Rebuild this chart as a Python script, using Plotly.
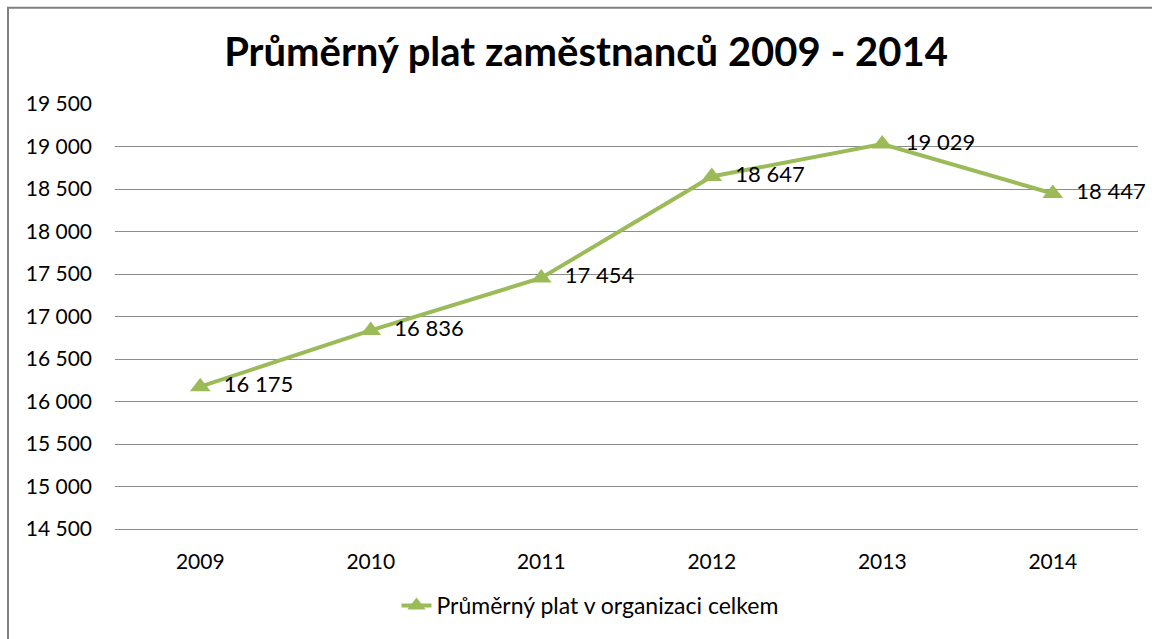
import plotly.graph_objects as go

years = ["2009", "2010", "2011", "2012", "2013", "2014"]
salary = [16175, 16836, 17454, 18647, 19029, 18447]
series_name = "Průměrný plat v organizaci celkem"
title = "Průměrný plat zaměstnanců 2009 - 2014"

W, H = 1152, 639
L, R, T, B = 115, 14, 104, 107
pw, ph = W - L - R, H - T - B

green = "#9BBB59"
grid = "#8c8c8c"
font = "Lato"

fig = go.Figure()
fig.add_trace(go.Scatter(
    x=years, y=salary, name=series_name,
    mode="lines+markers+text",
    line=dict(color=green, width=4),
    marker=dict(symbol="triangle-up", size=18, color=green),
    texttemplate="  %{y:,d}", textposition="middle right",
    textfont=dict(family=font, size=22, color="#000000"),
    cliponaxis=False,
))

fig.update_layout(
    width=W, height=H,
    margin=dict(l=L, r=R, t=T, b=B),
    paper_bgcolor="white", plot_bgcolor="white",
    separators=", ",
    font=dict(family=font, size=21, color="#000000"),
    title=dict(text="<b>" + title + "</b>", x=586 / W, xref="container", xanchor="center",
               y=1 - 52 / H, yref="container", yanchor="middle",
               font=dict(family=font, size=40, color="#000000")),
    showlegend=True,
    legend=dict(orientation="h", x=(590 - L) / pw, xanchor="center", y=-(609 - (T + ph)) / ph,
                yanchor="middle", font=dict(family=font, size=23, color="#000000")),
    xaxis=dict(type="category", range=[-0.5, 5.5], showgrid=False, showline=True,
               linecolor=grid, linewidth=1,
               zeroline=False, ticks="", ticklabelstandoff=14,
               tickfont=dict(family=font, size=21, color="#000000")),
    yaxis=dict(range=[14500, 19500], dtick=500, tick0=14500, tickformat=",d",
               showgrid=True, gridcolor=grid, gridwidth=1, zeroline=False,
               showline=False, ticks="", ticklabelstandoff=22,
               tickfont=dict(family=font, size=21, color="#000000")),
    shapes=[dict(type="rect", xref="paper", yref="paper",
                 x0=(8 - L) / pw, x1=(W + 10 - L) / pw,
                 y0=-(H + 10 - (T + ph)) / ph, y1=1 + (T - 7) / ph,
                 line=dict(color="#7f7f7f", width=2), fillcolor="rgba(0,0,0,0)", layer="below")],
)

fig.write_html("out.html", config={"displayModeBar": False},
               post_script="document.body.style.margin='0';")
